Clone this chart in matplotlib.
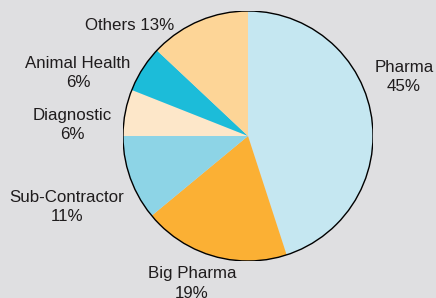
import matplotlib
matplotlib.use("Agg")
import matplotlib.pyplot as plt
from matplotlib.patches import Circle

# market share by segment
segments = ["Pharma", "Big Pharma", "Sub-Contractor", "Diagnostic", "Animal Health", "Others"]
shares = [45, 19, 11, 6, 6, 13]
colors = ["#c5e7f1", "#fbb034", "#8dd4e6", "#fde7c9", "#1cbcd9", "#fdd597"]
label_text = ["Pharma\n45%", "Big Pharma\n19%", "Sub-Contractor\n11%",
              "Diagnostic\n6%", "Animal Health\n6%", "Others 13%"]
label_pos = [(1.248, 0.472), (-0.448, -1.18), (-1.448, -0.568),
             (-1.408, 0.088), (-1.36, 0.504), (-0.944, 0.88)]

BG = "#dfdfe1"

plt.rcParams["font.family"] = ["Liberation Sans", "DejaVu Sans"]

fig = plt.figure(figsize=(4.36, 2.98), dpi=100, facecolor=BG)
W, H = 436, 298
cx, cy, r = 248, 136, 125
ax = fig.add_axes([(cx - r) / W, (H - cy - r) / H, 2 * r / W, 2 * r / H])
ax.set_facecolor(BG)

ax.pie(shares, colors=colors, startangle=90, counterclock=False,
       wedgeprops=dict(linewidth=0), radius=1.0)
ax.add_patch(Circle((0, 0), 1.0, fill=False, edgecolor="black", linewidth=1.0))

for txt, (x, y) in zip(label_text, label_pos):
    ax.text(x, y, txt, ha="center", va="center", fontsize=12.2,
            color="#1f1c1d", linespacing=1.35, clip_on=False)

ax.set_xlim(-1, 1)
ax.set_ylim(-1, 1)
ax.set_aspect("equal")
ax.axis("off")

fig.savefig("out.png", dpi=100, facecolor=BG)
